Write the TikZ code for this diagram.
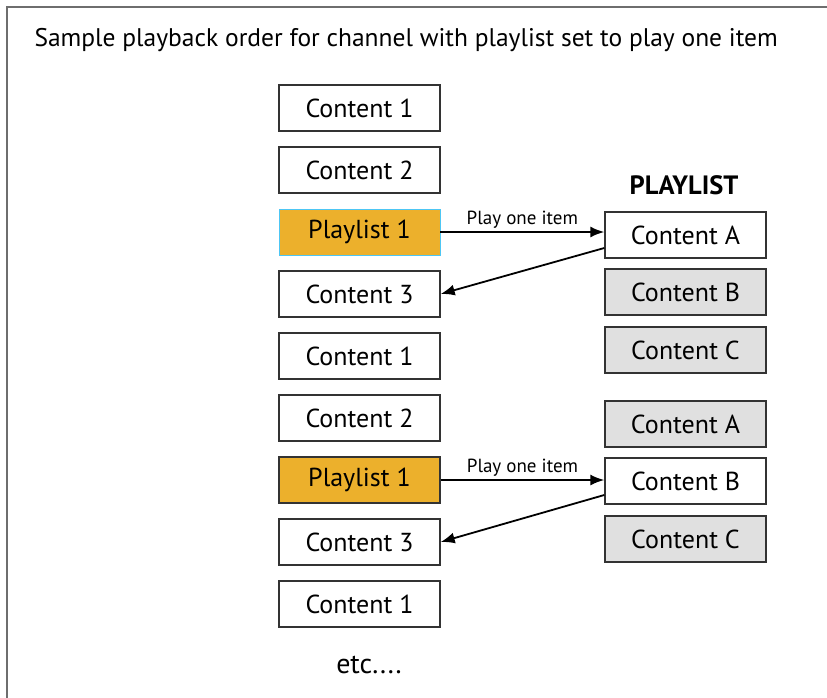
\documentclass[tikz,border=0pt]{standalone}
\usepackage{fontspec}
\setmainfont{PT Sans}
\usetikzlibrary{arrows.meta,positioning}
\definecolor{plgold}{HTML}{ECB02C}
\definecolor{offgray}{HTML}{E0E0E0}
\definecolor{framegray}{HTML}{6E6E6E}

\begin{document}
\begin{tikzpicture}[x=1pt,y=-1pt,
 item/.style={draw=black!80, line width=1.4pt, minimum width=161pt, minimum height=46pt, inner sep=0pt, font=\fontsize{26}{30}\selectfont},
 plitem/.style={item, fill=plgold},
 offitem/.style={item, fill=offgray},
 link/.style={-{Latex[length=14pt,width=11pt]}, line width=1.8pt},
 note/.style={font=\fontsize{19}{22}\selectfont, inner sep=2pt}]
 \useasboundingbox (0,0) rectangle (827,698);
 \draw[framegray, line width=1.6pt] (827,7) -- (7,7) -- (7,698);
 \node[anchor=west, font=\fontsize{25.5}{30}\selectfont] (title) at (31,40) {Sample playback order for channel with playlist set to play one item};

 \node[item] (c1a) at (359.5,108) {Content 1};
 \node[item] (c2a) at (359.5,170) {Content 2};
 \node[plitem, draw=cyan!70, line width=0.8pt] (pl1a) at (359.5,232) {Playlist 1};
 \node[item] (c3a) at (359.5,294) {Content 3};
 \node[item] (c1b) at (359.5,356) {Content 1};
 \node[item] (c2b) at (359.5,418) {Content 2};
 \node[plitem] (pl1b) at (359.5,480) {Playlist 1};
 \node[item] (c3b) at (359.5,542) {Content 3};
 \node[item] (c1c) at (359.5,604) {Content 1};
 \node[font=\fontsize{28}{32}\selectfont] (etc) at (369,665) {etc....};

 \node[font=\fontsize{26.5}{30}\selectfont\bfseries] (plhead) at (684,185) {PLAYLIST};
 \node[item] (caa) at (685.5,235) {Content A};
 \node[offitem] (cba) at (685.5,292) {Content B};
 \node[offitem] (cca) at (685.5,350) {Content C};
 \node[offitem] (cab) at (685.5,424) {Content A};
 \node[item] (cbb) at (685.5,481) {Content B};
 \node[offitem] (ccb) at (685.5,539) {Content C};

 \draw[link] (pl1a.east) -- node[note, above=1pt] {Play one item} (pl1a.east -| caa.west);
 \draw[link] ([yshift=-13pt]caa.west) -- (c3a.east);
 \draw[link] (pl1b.east) -- node[note, above=1pt] {Play one item} (pl1b.east -| cbb.west);
 \draw[link] ([yshift=-14pt]cbb.west) -- (c3b.east);
\end{tikzpicture}
\end{document}
